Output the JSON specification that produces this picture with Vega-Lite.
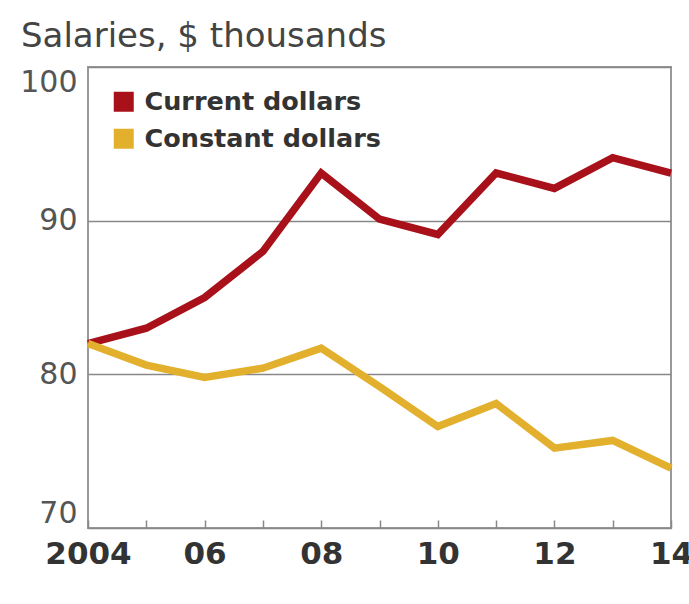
{
  "$schema": "https://vega.github.io/schema/vega-lite/v6.json",
  "autosize": {"type": "none"},
  "padding": {"left": 88, "top": 67, "right": 18, "bottom": 76},
  "width": 583,
  "height": 461,
  "background": "white",
  "title": {
    "text": "Salaries, $ thousands",
    "anchor": "start",
    "frame": "group",
    "orient": "top",
    "baseline": "alphabetic",
    "offset": -14,
    "dx": -67,
    "font": "DejaVu Sans",
    "fontSize": 34,
    "fontWeight": "normal",
    "color": "#444444"
  },
  "data": {
    "values": [
      {"year": 2004, "series": "Current dollars", "value": 82.0},
      {"year": 2005, "series": "Current dollars", "value": 83.0},
      {"year": 2006, "series": "Current dollars", "value": 85.0},
      {"year": 2007, "series": "Current dollars", "value": 88.0},
      {"year": 2008, "series": "Current dollars", "value": 93.1},
      {"year": 2009, "series": "Current dollars", "value": 90.1},
      {"year": 2010, "series": "Current dollars", "value": 89.1},
      {"year": 2011, "series": "Current dollars", "value": 93.1},
      {"year": 2012, "series": "Current dollars", "value": 92.1},
      {"year": 2013, "series": "Current dollars", "value": 94.1},
      {"year": 2014, "series": "Current dollars", "value": 93.1},
      {"year": 2004, "series": "Constant dollars", "value": 82.0},
      {"year": 2005, "series": "Constant dollars", "value": 80.6},
      {"year": 2006, "series": "Constant dollars", "value": 79.8},
      {"year": 2007, "series": "Constant dollars", "value": 80.4},
      {"year": 2008, "series": "Constant dollars", "value": 81.7},
      {"year": 2009, "series": "Constant dollars", "value": 79.2},
      {"year": 2010, "series": "Constant dollars", "value": 76.6},
      {"year": 2011, "series": "Constant dollars", "value": 78.1},
      {"year": 2012, "series": "Constant dollars", "value": 75.2},
      {"year": 2013, "series": "Constant dollars", "value": 75.7},
      {"year": 2014, "series": "Constant dollars", "value": 73.9}
    ]
  },
  "mark": {"type": "line", "strokeWidth": 7.5, "strokeJoin": "miter", "strokeCap": "butt"},
  "encoding": {
    "x": {
      "field": "year",
      "type": "quantitative",
      "scale": {"domain": [2004, 2014], "nice": false, "zero": false},
      "axis": {
        "title": null,
        "values": [2004, 2005, 2006, 2007, 2008, 2009, 2010, 2011, 2012, 2013, 2014],
        "labelExpr": "datum.value % 2 == 0 ? (datum.value == 2004 ? '2004' : substring(toString(datum.value), 2)) : ''",
        "grid": false,
        "domain": false,
        "ticks": true,
        "tickSize": -8,
        "tickColor": "#888888",
        "tickWidth": 1.5,
        "labelFont": "DejaVu Sans",
        "labelFontSize": 31,
        "labelFontWeight": "bold",
        "labelColor": "#333333",
        "labelPadding": 19,
        "labelOverlap": false,
        "labelBound": false,
        "labelFlush": false
      }
    },
    "y": {
      "field": "value",
      "type": "quantitative",
      "scale": {"domain": [70, 100], "nice": false, "zero": false},
      "axis": {
        "title": null,
        "values": [70, 80, 90, 100],
        "grid": true,
        "gridColor": "#888888",
        "gridWidth": 1.5,
        "domain": false,
        "ticks": false,
        "labelFont": "DejaVu Sans",
        "labelFontSize": 30,
        "labelColor": "#555555",
        "labelPadding": 11,
        "labelFlush": true
      }
    },
    "color": {
      "field": "series",
      "type": "nominal",
      "scale": {"domain": ["Current dollars", "Constant dollars"], "range": ["#A8101A", "#E3B02E"]},
      "legend": {
        "title": null,
        "orient": "none",
        "legendX": 23,
        "legendY": 22,
        "symbolType": "square",
        "symbolSize": 400,
        "symbolStrokeWidth": 0,
        "symbolOpacity": 1,
        "labelFont": "DejaVu Sans",
        "labelFontSize": 25.5,
        "labelFontWeight": "bold",
        "labelColor": "#333333",
        "labelLimit": 500,
        "labelOffset": 8,
        "rowPadding": 10,
        "padding": 0,
        "encode": {
          "symbols": {
            "update": {
              "fill": {"scale": "color", "field": "value"},
              "strokeWidth": {"value": 0}
            }
          }
        }
      }
    }
  },
  "config": {
    "view": {"stroke": "#999999", "strokeWidth": 2}
  }
}
